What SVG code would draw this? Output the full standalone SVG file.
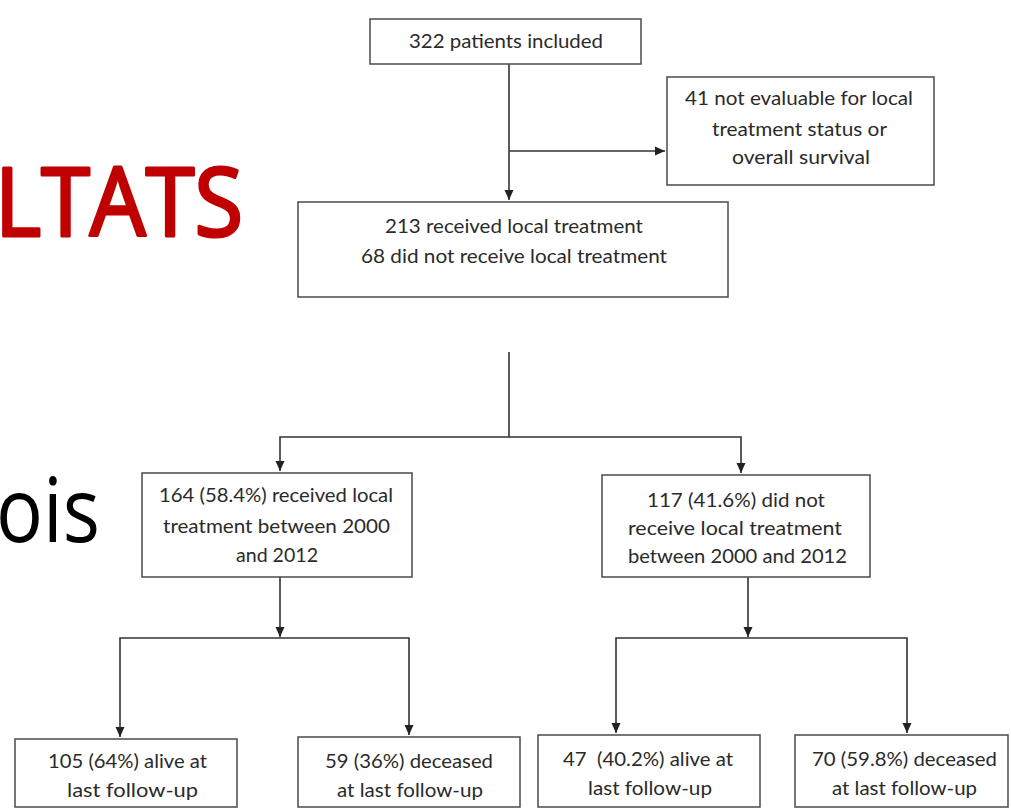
<svg xmlns="http://www.w3.org/2000/svg" width="1011" height="808" viewBox="0 0 1011 808">
<style>
.box{fill:#fff;stroke:#555;stroke-width:1.6}
.t{font-family:Lato,"Open Sans","Liberation Sans",sans-serif;font-size:19px;fill:#2a2a2a}
.c{fill:none;stroke:#333;stroke-width:1.6}
</style>
<defs>
<marker id="ah" markerUnits="userSpaceOnUse" markerWidth="12" markerHeight="12" viewBox="0 0 12 12" refX="11" refY="6" orient="auto">
<path d="M1,1.5 L11,6 L1,10.5 Z" fill="#222"/>
</marker>
</defs>
<rect width="1011" height="808" fill="#fff"/>
<text x="-5" y="236" font-family="'Open Sans','DejaVu Sans',sans-serif" font-size="95" fill="#C00000" stroke="#C00000" stroke-width="3.2" stroke-linejoin="round" textLength="248" lengthAdjust="spacingAndGlyphs">LTATS</text>
<text x="-4" y="542" font-family="'Open Sans','DejaVu Sans',sans-serif" font-size="90" fill="#000" textLength="104" lengthAdjust="spacingAndGlyphs">ois</text>
<g id="connectors">
<path class="c" d="M509,64 V200" marker-end="url(#ah)"/>
<path class="c" d="M509,151 H665" marker-end="url(#ah)"/>
<path class="c" d="M509,352 V437"/>
<path class="c" d="M509,437 H280 V471" marker-end="url(#ah)"/>
<path class="c" d="M509,437 H741 V473" marker-end="url(#ah)"/>
<path class="c" d="M280,577 V637" marker-end="url(#ah)"/>
<path class="c" d="M280,638 H120 V737" marker-end="url(#ah)"/>
<path class="c" d="M280,638 H409 V735" marker-end="url(#ah)"/>
<path class="c" d="M748,577 V637" marker-end="url(#ah)"/>
<path class="c" d="M748,638 H616 V733" marker-end="url(#ah)"/>
<path class="c" d="M748,638 H907 V733" marker-end="url(#ah)"/>
</g>
<g id="n322">
<rect class="box" x="370" y="19" width="271" height="45"/>
<text class="t" x="409" y="48" textLength="194" lengthAdjust="spacingAndGlyphs">322 patients included</text>
</g>
<g id="n41">
<rect class="box" x="667" y="77" width="267" height="108"/>
<text class="t" x="685" y="105" textLength="228" lengthAdjust="spacingAndGlyphs">41 not evaluable for local</text>
<text class="t" x="712" y="136" textLength="175" lengthAdjust="spacingAndGlyphs">treatment status or</text>
<text class="t" x="732" y="164" textLength="138" lengthAdjust="spacingAndGlyphs">overall survival</text>
</g>
<g id="n213">
<rect class="box" x="298" y="202" width="430" height="95"/>
<text class="t" x="385" y="233" textLength="258" lengthAdjust="spacingAndGlyphs">213 received local treatment</text>
<text class="t" x="361" y="263" textLength="306" lengthAdjust="spacingAndGlyphs">68 did not receive local treatment</text>
</g>
<g id="n164">
<rect class="box" x="142" y="473" width="270" height="104"/>
<text class="t" x="159" y="502" textLength="234" lengthAdjust="spacingAndGlyphs">164 (58.4%) received local</text>
<text class="t" x="163" y="533" textLength="227" lengthAdjust="spacingAndGlyphs">treatment between 2000</text>
<text class="t" x="236" y="562" textLength="82" lengthAdjust="spacingAndGlyphs">and 2012</text>
</g>
<g id="n117">
<rect class="box" x="602" y="475" width="268" height="102"/>
<text class="t" x="647" y="507" textLength="178" lengthAdjust="spacingAndGlyphs">117 (41.6%) did not</text>
<text class="t" x="628" y="535" textLength="214" lengthAdjust="spacingAndGlyphs">receive local treatment</text>
<text class="t" x="628" y="563" textLength="219" lengthAdjust="spacingAndGlyphs">between 2000 and 2012</text>
</g>
<g id="n105">
<rect class="box" x="15" y="739" width="222" height="68"/>
<text class="t" x="48" y="768" textLength="159" lengthAdjust="spacingAndGlyphs">105 (64%) alive at</text>
<text class="t" x="67" y="797" textLength="131" lengthAdjust="spacingAndGlyphs">last follow-up</text>
</g>
<g id="n59">
<rect class="box" x="298" y="737" width="222" height="70"/>
<text class="t" x="325" y="768" textLength="168" lengthAdjust="spacingAndGlyphs">59 (36%) deceased</text>
<text class="t" x="337" y="797" textLength="146" lengthAdjust="spacingAndGlyphs">at last follow-up</text>
</g>
<g id="n47">
<rect class="box" x="538" y="735" width="222" height="72"/>
<text class="t" x="563" y="766" textLength="170" lengthAdjust="spacingAndGlyphs" xml:space="preserve">47  (40.2%) alive at</text>
<text class="t" x="588" y="795" textLength="124" lengthAdjust="spacingAndGlyphs">last follow-up</text>
</g>
<g id="n70">
<rect class="box" x="795" y="735" width="213" height="72"/>
<text class="t" x="812" y="766" textLength="185" lengthAdjust="spacingAndGlyphs">70 (59.8%) deceased</text>
<text class="t" x="832" y="795" textLength="145" lengthAdjust="spacingAndGlyphs">at last follow-up</text>
</g>
</svg>
